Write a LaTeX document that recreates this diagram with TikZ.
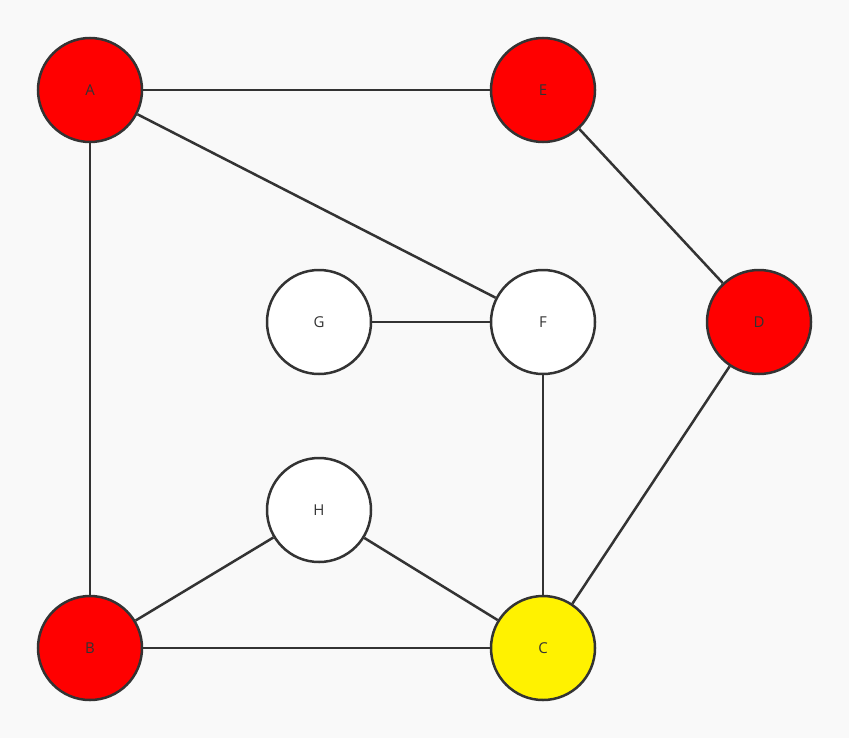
\documentclass[tikz,border=0pt]{standalone}
\usepackage{fontspec}
\setmainfont{Open Sans}
\usepackage{tikz}
\usetikzlibrary{positioning}
\definecolor{bgc}{HTML}{F9F9F9}
\definecolor{edgec}{HTML}{333333}
\begin{document}
\begin{tikzpicture}[x=0.5pt,y=-0.5pt]
	\tikzstyle{vtx} = [circle, draw = edgec, line width=1.25pt, minimum size=52pt, inner sep=0pt, font=\fontsize{7.5}{9}\selectfont, text=edgec]
\fill[bgc] (0,0) rectangle (849,738);
\node[vtx, fill = red] (A) at (90, 90) {A};
\node[vtx, fill = red] (E) at (543, 90) {E};
\node[vtx, fill = red] (D) at (759, 322) {D};
\node[vtx, fill = white] (G) at (319, 322) {G};
\node[vtx, fill = white] (F) at (543, 322) {F};
\node[vtx, fill = white] (H) at (319, 510) {H};
\node[vtx, fill = red] (B) at (90, 648) {B};
\node[vtx, fill = yellow] (C) at (543, 648) {C};
	\begin{scope}[draw = edgec, line width=1.25pt]
	\path[draw] (A) -- (E);
	\path[draw] (A) -- (B);
	\path[draw] (A) -- (F);
	\path[draw] (E) -- (D);
	\path[draw] (G) -- (F);
	\path[draw] (F) -- (C);
	\path[draw] (D) -- (C);
	\path[draw] (B) -- (H);
	\path[draw] (H) -- (C);
	\path[draw] (B) -- (C);
	\end{scope}
\end{tikzpicture}
\end{document}
